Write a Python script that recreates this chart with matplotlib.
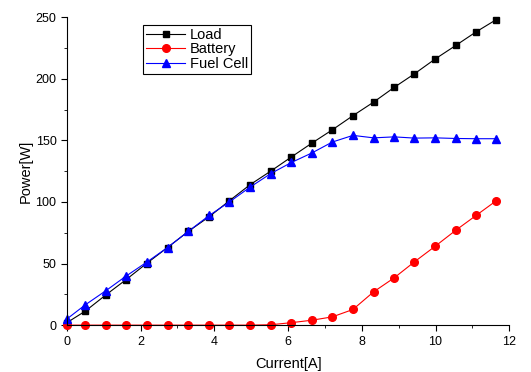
import numpy as np
from matplotlib import pyplot as plt
from matplotlib.ticker import MultipleLocator

plt.rcParams['font.family'] = ['Liberation Sans', 'DejaVu Sans']

current = [0, 0.5, 1.06, 1.6, 2.16, 2.73, 3.29, 3.86, 4.41, 4.97, 5.53,
           6.09, 6.65, 7.2, 7.76, 8.32, 8.88, 9.43, 9.99, 10.55, 11.1, 11.65]
load = [2, 11.4, 24.6, 36.8, 50, 63, 76, 88, 101, 114, 125,
        136.5, 147.8, 158.5, 170, 181, 193, 204, 216, 227, 238, 248]
battery = [0, 0, 0, 0, 0, 0, 0, 0, 0, 0, 0.3,
           2, 4, 6.7, 12.7, 27, 38.4, 51.4, 64, 77, 89, 101]
fuel_cell = [5, 16.5, 28, 39.7, 51, 63, 76, 89, 100, 112, 123,
             132, 139.8, 148.6, 154, 152, 152.8, 151.8, 152, 151.5, 151.3, 151.3]

fig = plt.figure(figsize=(5.31, 3.72), dpi=100)
ax = fig.add_axes([0.126, 0.126, 0.833, 0.828])

ax.plot(current, load, color='black', lw=0.8, marker='s', ms=5, label='Load', clip_on=False)
ax.plot(current, battery, color='red', lw=0.8, marker='o', ms=5.5, label='Battery', clip_on=False)
ax.plot(current, fuel_cell, color='blue', lw=0.8, marker='^', ms=6, label='Fuel Cell', clip_on=False)

ax.set_xlim(0, 12)
ax.set_ylim(0, 250)
ax.xaxis.set_major_locator(MultipleLocator(2))
ax.xaxis.set_minor_locator(MultipleLocator(1))
ax.yaxis.set_major_locator(MultipleLocator(50))
ax.yaxis.set_minor_locator(MultipleLocator(25))
ax.tick_params(which='major', direction='out', length=4, labelsize=9)
ax.tick_params(which='minor', direction='out', length=2.5)
ax.spines['top'].set_visible(False)
ax.spines['right'].set_visible(False)
ax.set_xlabel('Current[A]', fontsize=10.5, labelpad=7)
ax.set_ylabel('Power[W]', fontsize=10.5, labelpad=2)

leg = ax.legend(loc='upper left', bbox_to_anchor=(0.172, 0.975), fontsize=10.5,
                fancybox=False, framealpha=1, edgecolor='black',
                borderpad=0.2, labelspacing=0.05, handlelength=2.7,
                handletextpad=0.3, borderaxespad=0)
leg.get_frame().set_linewidth(0.8)

plt.savefig('out.png', dpi=100)
